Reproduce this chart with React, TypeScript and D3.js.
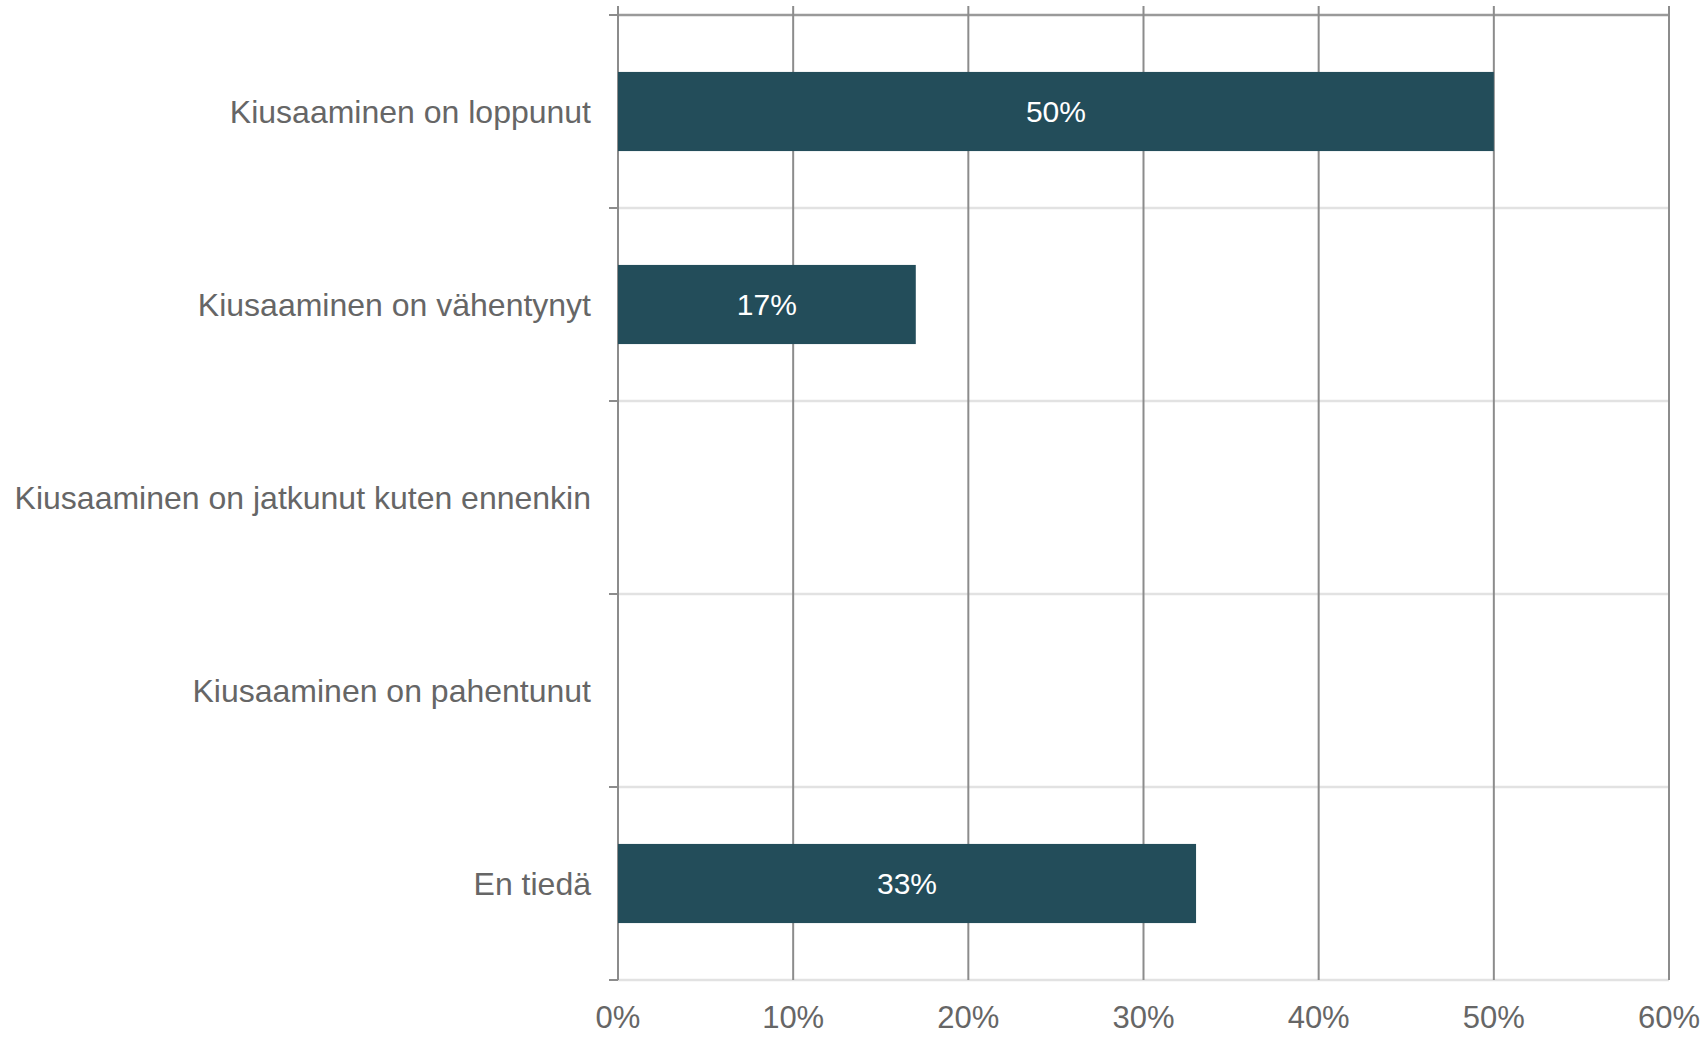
import React from "react";
import * as d3 from "d3";

const categories = [
  "Kiusaaminen on loppunut",
  "Kiusaaminen on vähentynyt",
  "Kiusaaminen on jatkunut kuten ennenkin",
  "Kiusaaminen on pahentunut",
  "En tiedä",
];
const values = [0.5, 0.17, 0, 0, 0.33];
const xTicks = [0, 0.1, 0.2, 0.3, 0.4, 0.5, 0.6];

const W = 1706;
const H = 1037;
const left = 618;
const right = 1669;
const top = 15;
const bottom = 980;

export default function App() {
  const x = d3.scaleLinear().domain([0, 0.6]).range([left, right]);
  const y = d3
    .scaleBand<string>()
    .domain(categories)
    .range([top, bottom])
    .paddingInner(0.59)
    .paddingOuter(0.295);
  const fmt = d3.format(".0%");
  const boundaries = d3.range(categories.length + 1).map(
    (i) => top + (i * (bottom - top)) / categories.length
  );
  const font = "'Liberation Sans', Arial, sans-serif";
  return (
    <svg
      width={W}
      height={H}
      style={{ position: "absolute", left: 0, top: 0, background: "#fff" }}
      fontFamily={font}
    >
      {boundaries.map((b, i) => (
        <g key={"h" + i}>
          <line
            x1={left}
            x2={right}
            y1={b}
            y2={b}
            stroke={i === 0 ? "#9a9a9a" : "#e2e2e2"}
            strokeWidth={2.5}
          />
          <line x1={left - 9} x2={left} y1={b} y2={b} stroke="#8c8c8c" strokeWidth={2} />
        </g>
      ))}
      {xTicks.map((t) => (
        <g key={"v" + t}>
          <line
            x1={x(t)}
            x2={x(t)}
            y1={6}
            y2={bottom}
            stroke="#8c8c8c"
            strokeWidth={2}
          />
          <text
            x={x(t)}
            y={1028}
            textAnchor="middle"
            fontSize={31}
            fill="#666666"
          >
            {fmt(t)}
          </text>
        </g>
      ))}
      {categories.map((c, i) => (
        <text
          key={"c" + i}
          x={591}
          y={(y(c) as number) + y.bandwidth() / 2}
          dy="0.36em"
          textAnchor="end"
          fontSize={32}
          fill="#666666"
        >
          {c}
        </text>
      ))}
      {categories.map((c, i) =>
        values[i] > 0 ? (
          <g key={"b" + i}>
            <rect
              x={x(0)}
              y={y(c) as number}
              width={x(values[i]) - x(0)}
              height={y.bandwidth()}
              fill="#234d5a"
            />
            <text
              x={(x(0) + x(values[i])) / 2}
              y={(y(c) as number) + y.bandwidth() / 2}
              dy="0.36em"
              textAnchor="middle"
              fontSize={30}
              fill="#ffffff"
            >
              {fmt(values[i])}
            </text>
          </g>
        ) : null
      )}
    </svg>
  );
}
